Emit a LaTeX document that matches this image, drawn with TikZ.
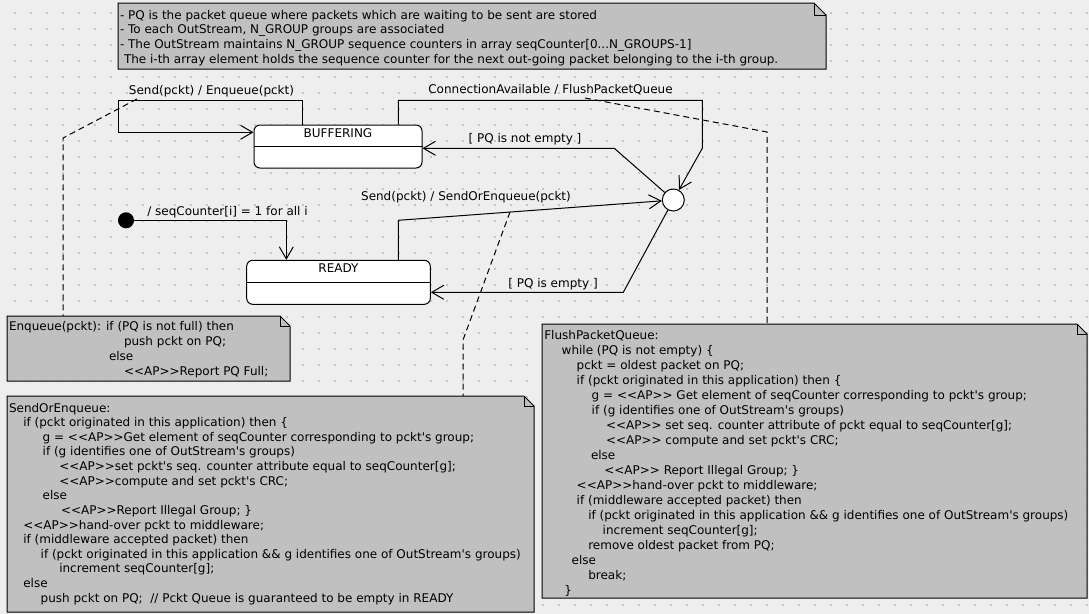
\documentclass[tikz,border=0pt]{standalone}
\usepackage{fontspec}
\newfontfamily\fs{DejaVu Sans}
\usetikzlibrary{arrows.meta}
\definecolor{bgc}{HTML}{EEEEEE}
\definecolor{notec}{HTML}{C0C0C0}
\definecolor{dotc}{HTML}{C4C4C4}
\newcommand\notedraw[2]{%
  \draw[fill=notec] (#1.north west) -- ([xshift=-#2]#1.north east) -- ([yshift=-#2]#1.north east) -- (#1.south east) -- (#1.south west) -- cycle;
  \draw ([xshift=-#2]#1.north east) |- ([yshift=-#2]#1.north east);}
\newcommand\tline[4]{\node[txt] (#1) at (#2,#3) {#4};}
\newcommand\AP{<<AP>>}
\begin{document}
\begin{tikzpicture}[x=0.75pt,y=-0.75pt,line width=0.75pt,
  txt/.style={anchor=base west,inner sep=0pt,outer sep=0pt,font=\fs\fontsize{9}{11}\selectfont},
  lbl/.style={anchor=base,inner sep=0pt,outer sep=0pt,font=\fs\fontsize{9}{11}\selectfont},
  statebox/.style={draw,fill=white,rounded corners=4.5pt,inner sep=0pt},
  tr/.style={-{Straight Barb[length=9pt,width=10.5pt]}},
  link/.style={dash pattern=on 4.5pt off 3pt},
  notebox/.style={inner sep=0pt,outer sep=0pt,anchor=north west}]
\useasboundingbox (0,0) rectangle (1089,614);
\fill[bgc] (0,0) rectangle (1089,614);
\foreach \i in {0,...,67}{\foreach \j in {0,...,37}{\fill[dotc] (13.9+16*\i,11.9+16*\j) rectangle ++(1.7,1.7);}}

% note placeholders
\node[notebox,minimum width=531pt,minimum height=49.5pt] (top) at (118,3) {};
\node[notebox,minimum width=212.25pt,minimum height=48.75pt] (enq) at (7,316) {};
\node[notebox,minimum width=395.25pt,minimum height=162pt] (soe) at (7,396) {};
\node[notebox,minimum width=408.75pt,minimum height=205.5pt] (fpq) at (542,324) {};

% states
\node[statebox,minimum width=126pt,minimum height=32.25pt] (buf) at (338,146.5) {};
\node[statebox,minimum width=137.7pt,minimum height=33pt] (rdy) at (338.5,282.3) {};
\draw (buf.west) -- (buf.east);
\draw (rdy.west) -- (rdy.east);
\node[lbl] (lbuf) at (338,137) {BUFFERING};
\node[lbl] (lrdy) at (338.5,272.5) {READY};
\node[circle,fill=black,draw,inner sep=0pt,minimum size=11.25pt] (init) at (126,220.3) {};
\node[circle,draw,fill=white,inner sep=0pt,minimum size=16.5pt] (j) at (673.3,200) {};

% dashed note links
\coordinate (d1a) at (137,99); \coordinate (d1b) at (63,138);
\draw[link] (d1a) -- (d1b) -- (d1b |- enq.north);
\coordinate (d2a) at (585,98); \coordinate (d2b) at (767,132);
\draw[link] (d2a) -- (d2b) -- (d2b |- fpq.north);
\coordinate (d3a) at (510,212); \coordinate (d3b) at (463,340);
\draw[link] (d3a) -- (d3b) -- (d3b |- soe.north);

% transitions
\coordinate (c1) at (286.3,220.3);
\draw[tr] (init) -- (c1) -- (c1 |- rdy.north);
\coordinate (sl1) at (302.3,100.3); \coordinate (sl2) at (118.3,132.3);
\draw[tr] (sl1 |- buf.north) -- (sl1) -| (sl2) -- (sl2 -| buf.west);
\coordinate (ca1) at (398.3,100.3); \coordinate (ca2) at (702.3,148.3);
\draw[tr] (ca1 |- buf.north) -- (ca1) -| (ca2) -- (j);
\coordinate (ne) at (614.3,148.3);
\draw[tr] (j) -- (ne) -- (ne -| buf.east);
\coordinate (se) at (398.3,220.3);
\draw[tr] (se |- rdy.north) -- (se) -- (j);
\coordinate (em) at (623.3,292.3);
\draw[tr] (j) -- (em) -- (em -| rdy.east);

\node[lbl] (t1) at (211.5,94.3) {Send(pckt) / Enqueue(pckt)};
\node[lbl] (t2) at (550.5,93.3) {ConnectionAvailable / FlushPacketQueue};
\node[lbl] (t3) at (525,142.3) {[ PQ is not empty ]};
\node[lbl] (t4) at (227.5,215) {/ seqCounter[i] = 1 for all i};
\node[lbl] (t5) at (466,200.7) {Send(pckt) / SendOrEnqueue(pckt)};
\node[lbl] (t6) at (553,287.3) {[ PQ is empty ]};

% notes
\notedraw{top}{9pt}
\notedraw{enq}{7.5pt}
\notedraw{soe}{7.5pt}
\notedraw{fpq}{7.5pt}

\tline{n0a}{120}{19}{- PQ is the packet queue where packets which are waiting to be sent are stored}
\tline{n0b}{120}{33.7}{- To each OutStream, N\_GROUP groups are associated}
\tline{n0c}{120}{48.3}{- The OutStream maintains N\_GROUP sequence counters in array seqCounter[0...N\_GROUPS-1]}
\tline{n0d}{124}{63}{The i-th array element holds the sequence counter for the next out-going packet belonging to the i-th group.}

\tline{e1}{9}{330.7}{Enqueue(pckt): if (PQ is not full) then}
\tline{e2}{124}{345.7}{push pckt on PQ;}
\tline{e3}{109}{360.7}{else}
\tline{e4}{124}{375.7}{\AP Report PQ Full;}

\tline{s1}{9}{412}{SendOrEnqueue:}
\tline{s2}{23.3}{426.6}{if (pckt originated in this application) then \{}
\tline{s3}{42.7}{441.2}{g = \AP Get element of seqCounter corresponding to pckt's group;}
\tline{s4}{42.7}{455.9}{if (g identifies one of OutStream's groups)}
\tline{s5}{59.3}{470.5}{\AP set pckt's seq. counter attribute equal to seqCounter[g];}
\tline{s6}{59.3}{485.1}{\AP compute and set pckt's CRC;}
\tline{s7}{42.7}{499.7}{else}
\tline{s8}{61}{514.3}{\AP Report Illegal Group; \}}
\tline{s9}{23.3}{529}{\AP hand-over pckt to middleware;}
\tline{s10}{23.3}{543.6}{if (middleware accepted packet) then}
\tline{s11}{40.7}{558.2}{if (pckt originated in this application \&\& g identifies one of OutStream's groups)}
\tline{s12}{59.3}{572.8}{increment seqCounter[g];}
\tline{s13}{23.3}{587.4}{else}
\tline{s14}{40.7}{602.1}{push pckt on PQ;\ \ // Pckt Queue is guaranteed to be empty in READY}

\tline{f1}{544.3}{339}{FlushPacketQueue:}
\tline{f2}{561.7}{354}{while (PQ is not empty) \{}
\tline{f3}{576.7}{369}{pckt = oldest packet on PQ;}
\tline{f4}{576.7}{384}{if (pckt originated in this application) then \{}
\tline{f5}{591.7}{399}{g = \AP{} Get element of seqCounter corresponding to pckt's group;}
\tline{f6}{591.7}{414}{if (g identifies one of OutStream's groups)}
\tline{f7}{606}{429}{\AP{} set seq. counter attribute of pckt equal to seqCounter[g];}
\tline{f8}{606}{444}{\AP{} compute and set pckt's CRC;}
\tline{f9}{591}{459}{else}
\tline{f10}{604.3}{474}{\AP{} Report Illegal Group; \}}
\tline{f11}{576.7}{489}{\AP hand-over pckt to middleware;}
\tline{f12}{576.7}{504}{if (middleware accepted packet) then}
\tline{f13}{588.3}{519}{if (pckt originated in this application \&\& g identifies one of OutStream's groups)}
\tline{f14}{602.7}{534}{increment seqCounter[g];}
\tline{f15}{588.3}{549}{remove oldest packet from PQ;}
\tline{f16}{571.7}{564}{else}
\tline{f17}{588.3}{579}{break;}
\tline{f18}{564.3}{594}{\}}
\end{tikzpicture}
\end{document}
